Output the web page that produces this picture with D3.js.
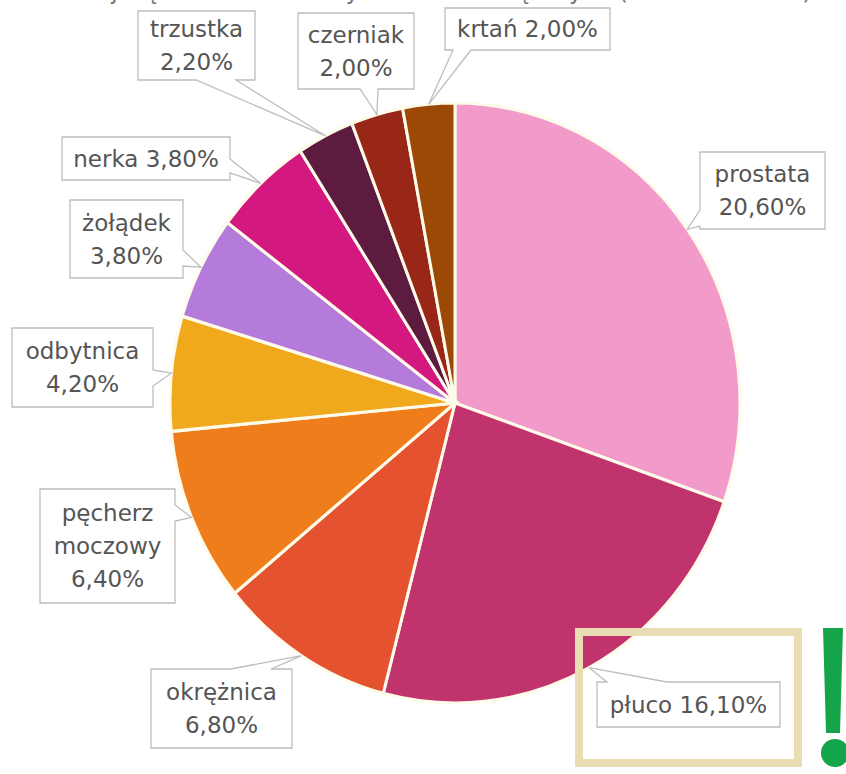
<!DOCTYPE html>
<html>
<head>
<meta charset="utf-8">
<script src="https://cdn.jsdelivr.net/npm/d3@7"></script>
<style>
  body { margin: 0; background: #fff; }
  svg { display: block; }
  .lbl { font-family: "DejaVu Sans", Verdana, sans-serif; font-size: 23px; fill: #555; }
</style>
</head>
<body>
<svg id="chart"></svg>
<script>
const width = 846;
const height = 774;

// data
const sites = ["prostata", "płuco", "okrężnica", "pęcherz moczowy", "odbytnica",
               "żołądek", "nerka", "trzustka", "czerniak", "krtań"];
const shares = [20.6, 16.1, 6.8, 6.4, 4.2, 3.8, 3.8, 2.2, 2.0, 2.0];
const labelLines = [["prostata", "20,60%"], ["płuco 16,10%"], ["okrężnica", "6,80%"],
                    ["pęcherz", "moczowy", "6,40%"], ["odbytnica", "4,20%"], ["żołądek", "3,80%"],
                    ["nerka 3,80%"], ["trzustka", "2,20%"], ["czerniak", "2,00%"], ["krtań 2,00%"]];
const colors = ["#f29bcb", "#c0336d", "#e5522f", "#f07d1b", "#f0a91d",
                "#b47bdb", "#d3197f", "#5c1b3f", "#982717", "#9b4905"];

// callout boxes: x, y, w, h, edge of the tail, tail base along that edge
const boxes = [
  {x: 700, y: 152, w: 125, h: 77, edge: "left", t: [58, 74]},
  {x: 597, y: 682, w: 183, h: 45, edge: "top", t: [10, 70]},
  {x: 151, y: 669, w: 141, h: 79, edge: "top", t: [80, 120]},
  {x: 40, y: 489, w: 135, h: 114, edge: "right", t: [16, 32]},
  {x: 12, y: 328, w: 141, h: 79, edge: "right", t: [42, 58]},
  {x: 70, y: 200, w: 113, h: 78, edge: "right", t: [50, 66]},
  {x: 62, y: 137, w: 168, h: 43, edge: "right", t: [22, 36]},
  {x: 138, y: 11, w: 117, h: 69, edge: "bottom", t: [58, 98]},
  {x: 298, y: 13, w: 116, h: 76, edge: "bottom", t: [62, 80]},
  {x: 445, y: 8, w: 165, h: 42, edge: "bottom", t: [8, 26]}
];

const cx = 455, cy = 403, rx = 285, ry = 300;

const svg = d3.select("#chart").attr("width", width).attr("height", height);

// title, cut off by the top edge as in the source picture
svg.append("text")
    .attr("x", 445).attr("y", -1)
    .attr("text-anchor", "middle")
    .attr("class", "lbl")
    .style("font-size", "24px")
    .style("fill", "#777")
    .text("Najczęstsze nowotwory złośliwe u mężczyzn (% zachorowań)");

const pie = d3.pie().sort(null).value(d => d);
const arcs = pie(shares);
const arc = d3.arc().innerRadius(0).outerRadius(rx);
const edgeArc = d3.arc().innerRadius(rx).outerRadius(rx);

const g = svg.append("g")
    .attr("transform", "translate(" + cx + "," + cy + ") scale(1," + (ry / rx) + ")");

g.selectAll("path")
    .data(arcs)
    .enter()
    .append("path")
    .attr("d", arc)
    .attr("fill", (d, i) => colors[i])
    .attr("stroke", "#fffbea")
    .attr("stroke-width", 3);

// highlight frame round the lung label
svg.append("rect")
    .attr("x", 579).attr("y", 632)
    .attr("width", 219).attr("height", 131)
    .attr("fill", "none")
    .attr("stroke", "#e8ddb3")
    .attr("stroke-width", 8);

function calloutPath(b, tip) {
  const x0 = b.x, y0 = b.y, x1 = b.x + b.w, y1 = b.y + b.h;
  const p = [];
  p.push([x0, y0]);
  if (b.edge === "top") { p.push([x0 + b.t[0], y0], tip, [x0 + b.t[1], y0]); }
  p.push([x1, y0]);
  if (b.edge === "right") { p.push([x1, y0 + b.t[0]], tip, [x1, y0 + b.t[1]]); }
  p.push([x1, y1]);
  if (b.edge === "bottom") { p.push([x0 + b.t[1], y1], tip, [x0 + b.t[0], y1]); }
  p.push([x0, y1]);
  if (b.edge === "left") { p.push([x0, y0 + b.t[1]], tip, [x0, y0 + b.t[0]]); }
  return "M" + p.map(q => q.join(",")).join("L") + "Z";
}

const labels = svg.append("g");
arcs.forEach((d, i) => {
  const c = edgeArc.centroid(d);
  const tip = [cx + c[0], cy + c[1] * ry / rx];
  const b = boxes[i];
  labels.append("path")
      .attr("d", calloutPath(b, tip))
      .attr("fill", "#fff")
      .attr("stroke", "#bdbdbd")
      .attr("stroke-width", 1.3);
  const lines = labelLines[i];
  const lh = 33;
  const top = b.y + b.h / 2 - (lines.length - 1) * lh / 2;
  const t = labels.append("text")
      .attr("class", "lbl")
      .attr("text-anchor", "middle");
  lines.forEach((s, k) => {
    t.append("tspan")
        .attr("x", b.x + b.w / 2)
        .attr("y", top + k * lh)
        .attr("dy", "0.36em")
        .text(s);
  });
});

// green exclamation mark
svg.append("path")
    .attr("d", "M823,628 L843,628 L840,733 L826,733 Z")
    .attr("fill", "#14a44a");
svg.append("circle")
    .attr("cx", 835).attr("cy", 753).attr("r", 14)
    .attr("fill", "#14a44a");
</script>
</body>
</html>
